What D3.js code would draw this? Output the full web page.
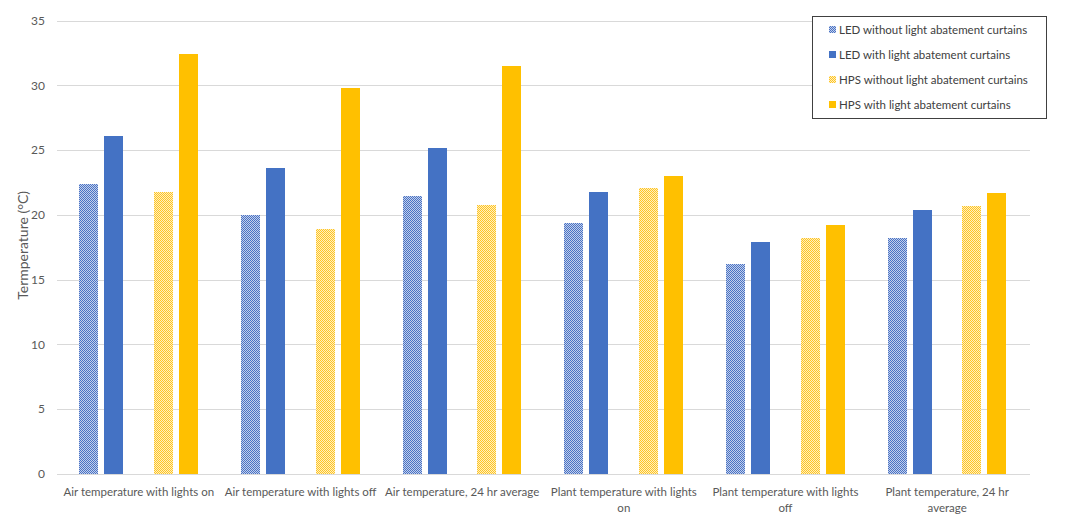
<!DOCTYPE html>
<html>
<head>
<meta charset="utf-8">
<script src="https://cdn.jsdelivr.net/npm/d3@7"></script>
<style>
  html, body { margin: 0; padding: 0; background: #fff; }
  svg { display: block; font-family: Lato, "Open Sans", sans-serif; }
</style>
</head>
<body>
<svg id="chart" width="1067" height="525" shape-rendering="crispEdges"></svg>
<script>
const categories = [
  "Air temperature with lights on",
  "Air temperature with lights off",
  "Air temperature, 24 hr average",
  "Plant temperature with lights on",
  "Plant temperature with lights off",
  "Plant temperature, 24 hr average"
];
const categoryLines = [
  ["Air temperature with lights on"],
  ["Air temperature with lights off"],
  ["Air temperature, 24 hr average"],
  ["Plant temperature with lights", "on"],
  ["Plant temperature with lights", "off"],
  ["Plant temperature, 24 hr", "average"]
];
const seriesNames = [
  "LED without light abatement curtains",
  "LED with light abatement curtains",
  "HPS without light abatement curtains",
  "HPS with light abatement curtains"
];
const ledWithout = [22.4, 20.0, 21.5, 19.4, 16.2, 18.2];
const ledWith    = [26.1, 23.6, 25.2, 21.8, 17.9, 20.4];
const hpsWithout = [21.8, 18.9, 20.8, 22.1, 18.2, 20.7];
const hpsWith    = [32.4, 29.8, 31.5, 23.0, 19.2, 21.7];
const yTicks = [0, 5, 10, 15, 20, 25, 30, 35];
const yTitle = "Termperature (°C)";

const seriesValues = [ledWithout, ledWith, hpsWithout, hpsWith];
const slotKeys = ["s0", "s1", "gap", "s2", "s3"];
const seriesSlot = ["s0", "s1", "s2", "s3"];
const seriesFill = ["url(#patBlue)", "#4472c4", "url(#patYellow)", "#ffc000"];

const svg = d3.select("#chart");
const defs = svg.append("defs");

function makePattern(id, bg, fg) {
  const p = defs.append("pattern").attr("id", id)
    .attr("patternUnits", "userSpaceOnUse").attr("width", 2).attr("height", 2);
  p.append("rect").attr("width", 2).attr("height", 2).attr("fill", bg);
  p.append("rect").attr("x", 0).attr("y", 0).attr("width", 1).attr("height", 1).attr("fill", fg);
  p.append("rect").attr("x", 1).attr("y", 1).attr("width", 1).attr("height", 1).attr("fill", fg);
}
makePattern("patBlue", "#c3d0ec", "#4a73c4");
makePattern("patYellow", "#ffefc0", "#ffc524");

const plot = { left: 58, right: 1028, top: 20.7, bottom: 474 };

const x0 = d3.scaleBand().domain(categories).range([plot.left, plot.right]).padding(0);
const x1 = d3.scaleBand().domain(slotKeys).range([21.4, 140.4]).paddingInner(0.22).paddingOuter(0);
const y = d3.scaleLinear().domain([0, 35]).range([plot.bottom, plot.top]);

// gridlines
svg.append("g").selectAll("line").data(yTicks).join("line")
  .attr("x1", plot.left - 1).attr("x2", plot.right + 2)
  .attr("y1", d => Math.round(y(d)) + 0.5).attr("y2", d => Math.round(y(d)) + 0.5)
  .attr("stroke", "#d9d9d9").attr("stroke-width", 1);

// y tick labels
svg.append("g").selectAll("text").data(yTicks).join("text")
  .attr("x", 45).attr("y", d => y(d)).attr("dy", "0.35em")
  .attr("text-anchor", "end").attr("font-size", 12).attr("fill", "#595959")
  .attr("shape-rendering", "auto")
  .text(d => d);

// y title
svg.append("text")
  .attr("transform", `translate(23,${(plot.top + plot.bottom) / 2 - 2}) rotate(-90)`)
  .attr("text-anchor", "middle").attr("dy", "0.35em")
  .attr("font-size", 14).attr("fill", "#595959").text(yTitle);

// bars
const groups = svg.append("g").selectAll("g").data(categories).join("g");
groups.selectAll("rect").data((c, i) => seriesValues.map((vals, s) => ({ c, s, v: vals[i] })))
  .join("rect")
  .attr("x", d => Math.round(x0(d.c) + x1(seriesSlot[d.s])))
  .attr("width", Math.round(x1.bandwidth()))
  .attr("y", d => Math.round(y(d.v)))
  .attr("height", d => Math.round(y(0)) - Math.round(y(d.v)))
  .attr("fill", d => seriesFill[d.s]);

// x labels
const xl = svg.append("g").selectAll("text").data(categories).join("text")
  .attr("text-anchor", "middle").attr("font-size", 11.5).attr("fill", "#595959")
  .attr("x", d => x0(d) + x0.bandwidth() / 2);
xl.each(function(d, i) {
  d3.select(this).selectAll("tspan").data(categoryLines[i]).join("tspan")
    .attr("x", x0(d) + x0.bandwidth() / 2)
    .attr("y", (t, j) => 496 + j * 15.5)
    .text(t => t);
});

// legend
const lg = svg.append("g");
lg.append("rect").attr("x", 812.5).attr("y", 16.5).attr("width", 234).attr("height", 102)
  .attr("fill", "#fff").attr("stroke", "#404040").attr("stroke-width", 1);
const legendFill = ["url(#patBlue)", "#4472c4", "url(#patYellow)", "#ffc000"];
const li = lg.selectAll("g.item").data(seriesNames).join("g").attr("class", "item")
  .attr("transform", (d, i) => `translate(0,${30 + i * 25})`);
li.append("rect").attr("x", 829).attr("y", -4).attr("width", 7).attr("height", 7)
  .attr("fill", (d, i) => legendFill[i]);
li.append("text").attr("x", 839).attr("y", 0).attr("dy", "0.35em")
  .attr("font-size", 11.5).attr("fill", "#404040").text(d => d);
</script>
</body>
</html>
